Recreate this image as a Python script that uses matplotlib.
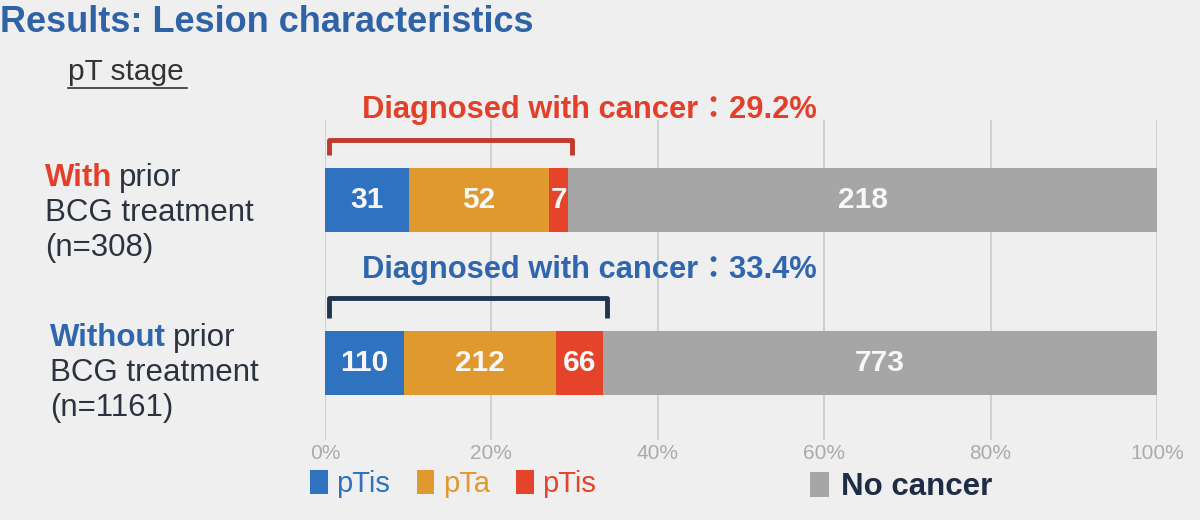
import matplotlib.pyplot as plt
import numpy as np
from matplotlib.ticker import PercentFormatter
from matplotlib.lines import Line2D

# Data
groups = ['With prior BCG treatment (n=308)', 'Without prior BCG treatment (n=1161)']
categories = ['pTis', 'pTa', 'pTis', 'No cancer']
with_bcg = [31, 52, 7, 218]
without_bcg = [110, 212, 66, 773]
diag_labels = ['Diagnosed with cancer\uff1a29.2%', 'Diagnosed with cancer\uff1a33.4%']

colors = ['#2F72C0', '#E0992F', '#E5432A', '#A6A6A6']
bg = '#EFEFEF'
dark = '#2B3340'

plt.rcParams['font.family'] = ['Liberation Sans', 'Noto Sans CJK JP', 'DejaVu Sans']

fig = plt.figure(figsize=(12, 5.2), dpi=100, facecolor=bg)
ax = fig.add_axes([325 / 1200, 80 / 520, 832 / 1200, 320 / 520], facecolor=bg)

counts = np.array([with_bcg, without_bcg], dtype=float)
fracs = counts / counts.sum(axis=1, keepdims=True)
ypos = [1, 0]
h = 0.39

left = np.zeros(2)
handles = []
for j in range(len(categories)):
    bars = ax.barh(ypos, fracs[:, j], left=left, height=h, color=colors[j], zorder=3)
    handles.append(bars)
    for i in range(2):
        ax.text(left[i] + fracs[i, j] / 2, ypos[i], f'{int(counts[i, j])}',
                ha='center', va='center', color='#F7F7F7', fontsize=21.5,
                fontweight='bold', zorder=4)
    left += fracs[:, j]

ax.set_xlim(0, 1)
ax.set_ylim(-0.47, 1.49)
ax.set_xticks(np.linspace(0, 1, 6))
ax.xaxis.set_major_formatter(PercentFormatter(xmax=1, decimals=0))
ax.set_yticks([])
ax.tick_params(axis='x', length=0, pad=3, labelsize=15, labelcolor='#ABABAB')
for s in ax.spines.values():
    s.set_visible(False)
ax.grid(axis='x', color='#CDCDCD', linewidth=1.3, zorder=0)

# Brackets + "diagnosed" labels
cancer_frac = fracs[:, :3].sum(axis=1)
br_colors = ['#C0392B', '#1F3550']
txt_colors = ['#E2402A', '#2F66AE']
br_top = [1.368, 0.40]
br_bot = [1.276, 0.276]
txt_y = [1.552, 0.57]
for i in range(2):
    x0, x1 = 0.005, cancer_frac[i] + 0.005
    ax.add_line(Line2D([x0, x0, x1, x1], [br_bot[i], br_top[i], br_top[i], br_bot[i]],
                       color=br_colors[i], linewidth=3.5, solid_joinstyle='round',
                       solid_capstyle='butt', zorder=5, clip_on=False))
    ax.text(0.0445, txt_y[i], diag_labels[i], ha='left', va='center', fontsize=22.2,
            fontweight='bold', color=txt_colors[i], clip_on=False)

# Title and subtitle
fig.text(0.0, 1 - 22 / 520, 'Results: Lesion characteristics', ha='left', va='center',
         fontsize=26, fontweight='bold', color='#2F63A6')
fig.text(68 / 1200, 1 - 72 / 520, 'pT stage', ha='left', va='center', fontsize=21.5, color='#333333')
fig.add_artist(Line2D([68 / 1200, 187 / 1200], [1 - 88 / 520, 1 - 88 / 520],
                      color='#333333', linewidth=1.2))

# Row labels
row_specs = [('With', '#E2402A', 45, 178, '(n=308)'), ('Without', '#2F66AE', 50, 338, '(n=1161)')]
for word, col, x, y, n in row_specs:
    t = fig.text(x / 1200, 1 - y / 520, word, ha='left', va='center', fontsize=22.5,
                 fontweight='bold', color=col)
    fig.canvas.draw()
    bb = t.get_window_extent()
    fig.text((bb.x1 + 7) / 1200, 1 - y / 520, 'prior', ha='left', va='center', fontsize=22.5, color=dark)
    fig.text(x / 1200, 1 - (y + 35) / 520, 'BCG treatment', ha='left', va='center', fontsize=22.5, color=dark)
    fig.text(x / 1200, 1 - (y + 70) / 520, n, ha='left', va='center', fontsize=22.5, color=dark)

# Legend
leg1 = fig.legend(handles[:3], categories[:3], loc='center left',
                  bbox_to_anchor=(284 / 1200, 1 - 484 / 520), ncol=3, frameon=False,
                  fontsize=21, handlelength=0.6, handleheight=0.85, handletextpad=0.3,
                  columnspacing=0.9)
for txt, c in zip(leg1.get_texts(), colors[:3]):
    txt.set_color(c)
leg2 = fig.legend([handles[3]], categories[3:], loc='center left',
                  bbox_to_anchor=(782 / 1200, 1 - 487 / 520), frameon=False,
                  handlelength=0.6, handleheight=0.85, handletextpad=0.4,
                  prop={'weight': 'bold', 'size': 22.5})
leg2.get_texts()[0].set_color('#1E2D45')

fig.savefig('out.png', dpi=100, facecolor=bg)
